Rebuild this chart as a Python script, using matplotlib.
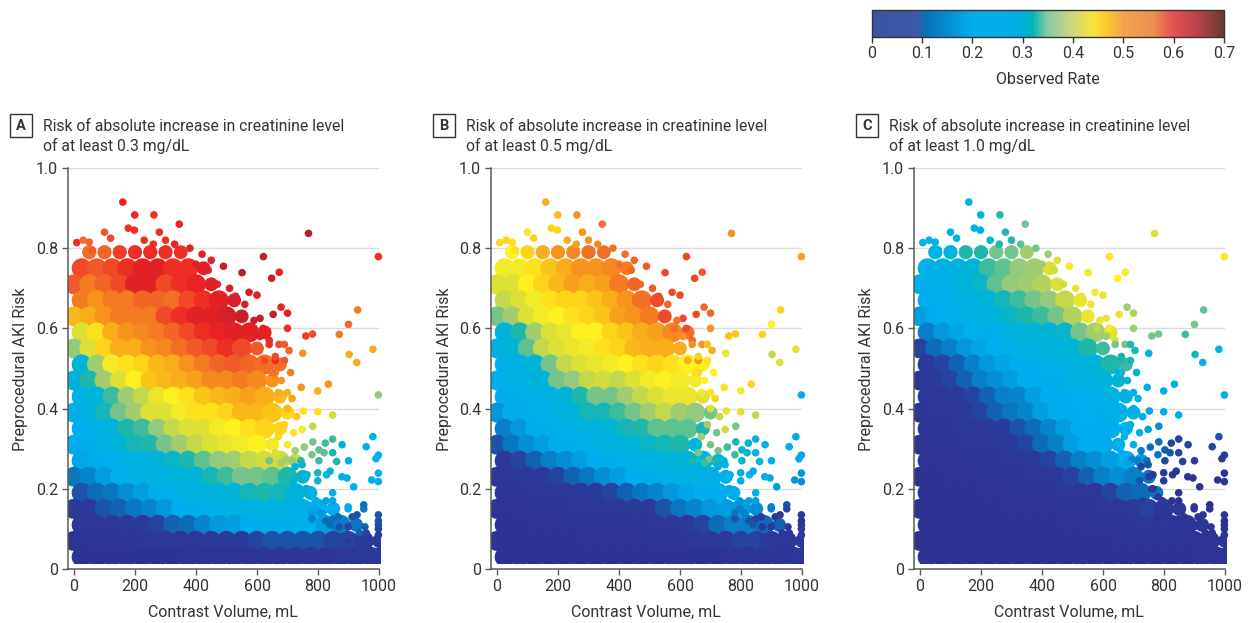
"""Preprocedural AKI risk against contrast volume, three creatinine thresholds."""
import matplotlib
matplotlib.use("Agg")
import matplotlib.pyplot as plt
from matplotlib.cm import ScalarMappable
from matplotlib.colors import LinearSegmentedColormap, Normalize
from matplotlib.patches import Rectangle

plt.rcParams["font.family"] = ["Roboto", "DejaVu Sans"]

W, H = 1249, 623
TEXT = "#333333"

TITLES = [
    ("A", "Risk of absolute increase in creatinine level\nof at least 0.3 mg/dL"),
    ("B", "Risk of absolute increase in creatinine level\nof at least 0.5 mg/dL"),
    ("C", "Risk of absolute increase in creatinine level\nof at least 1.0 mg/dL"),
]

# dense cloud, read as a coarse table: risk rows top down, volume columns in 50 mL steps
ROW_Y = [0.79, 0.75, 0.71, 0.67, 0.63, 0.59, 0.55, 0.51, 0.47, 0.43,
         0.39, 0.35, 0.31, 0.27, 0.23, 0.19, 0.15, 0.11, 0.07, 0.03]

# observed rate in percent per cell, 0 = no cell
RATE_A = [
    [0, 55, 56, 59, 60, 60, 60, 60],
    [58, 57, 58, 60, 62, 62, 60, 60, 62],
    [57, 54, 56, 58, 62, 62, 58, 60, 61, 62],
    [54, 52, 54, 54, 56, 56, 55, 58, 60, 62, 63],
    [49, 50, 52, 54, 54, 54, 58, 60, 62, 62, 63, 64],
    [42, 46, 50, 52, 53, 54, 56, 58, 60, 61, 62, 62, 61],
    [37, 42, 47, 50, 50, 52, 53, 55, 57, 58, 60, 58, 57],
    [30, 38, 44, 46, 47, 49, 50, 52, 54, 56, 57, 56, 55, 55],
    [27, 33, 38, 42, 45, 48, 49, 50, 51, 53, 53, 54, 53, 52],
    [25, 30, 34, 38, 40, 43, 45, 46, 48, 49, 50, 51, 50, 49],
    [23, 27, 32, 36, 38, 42, 42, 44, 46, 46, 47, 49, 49, 48, 47],
    [21, 24, 28, 33, 34, 37, 40, 42, 42, 44, 45, 46, 47, 47],
    [20, 22, 25, 29, 32, 33, 36, 38, 40, 42, 43, 44, 45, 44],
    [19, 20, 21, 24, 26, 29, 31, 33, 35, 37, 38, 40, 41, 41, 40],
    [13, 15, 18, 21, 24, 26, 27, 28, 30, 32, 34, 36, 36, 35, 33, 31],
    [10, 12, 13, 16, 18, 22, 24, 26, 27, 28, 30, 32, 33, 32, 30, 30],
    [7, 8, 10, 11, 13, 15, 17, 20, 22, 23, 25, 26, 26, 26, 25, 24, 22, 20],
    [5, 6, 6, 7, 8, 9, 11, 12, 15, 17, 18, 20, 22, 22, 22, 21, 18, 14, 13],
    [3, 3, 4, 4, 4, 5, 5, 6, 6, 7, 7, 8, 9, 10, 10, 10, 10, 9, 9, 8, 8],
    [2, 2, 2, 2, 2, 2, 2, 3, 3, 3, 3, 3, 4, 4, 4, 4, 4, 5, 6, 6, 7],
]
RATE_B = [
    [0, 45, 47, 50, 52, 53, 55, 55],
    [44, 44, 46, 48, 50, 52, 52, 53, 54],
    [42, 42, 45, 47, 49, 51, 50, 51, 54, 56],
    [40, 42, 44, 46, 47, 47, 48, 50, 52, 55, 58],
    [36, 38, 42, 44, 45, 46, 47, 48, 51, 52, 54, 58],
    [28, 33, 38, 42, 43, 45, 45, 47, 48, 50, 51, 53, 55],
    [26, 30, 35, 40, 42, 43, 44, 46, 47, 49, 50, 50, 50],
    [24, 27, 30, 36, 40, 42, 43, 44, 45, 46, 47, 46, 45, 45],
    [21, 24, 26, 30, 36, 37, 40, 41, 40, 42, 44, 45, 44, 44],
    [20, 22, 24, 26, 30, 33, 36, 36, 38, 40, 42, 43, 43, 42],
    [17, 20, 22, 24, 27, 29, 32, 32, 34, 36, 38, 40, 38, 37, 36],
    [14, 17, 20, 22, 24, 26, 28, 30, 32, 33, 35, 35, 35, 33],
    [10, 13, 16, 18, 20, 22, 24, 26, 28, 30, 31, 32, 33, 30],
    [7, 9, 11, 14, 16, 18, 20, 22, 24, 25, 27, 29, 30, 30, 29],
    [5, 6, 7, 8, 9, 11, 13, 16, 18, 20, 22, 24, 25, 25, 24, 22],
    [4, 4, 5, 5, 6, 7, 8, 9, 11, 13, 15, 17, 19, 20, 20, 20],
    [3, 3, 3, 4, 4, 5, 5, 5, 6, 7, 8, 10, 13, 15, 17, 18, 18, 16],
    [2, 2, 3, 3, 3, 3, 3, 4, 4, 4, 5, 6, 7, 9, 12, 14, 14, 12, 11],
    [2, 2, 2, 2, 2, 2, 3, 3, 3, 3, 3, 4, 4, 5, 6, 7, 9, 9, 8, 6, 5],
    [1, 1, 1, 1, 1, 1, 1, 1, 1, 2, 2, 2, 2, 2, 2, 3, 3, 4, 4, 5, 5],
]
RATE_C = [
    [0, 26, 28, 33, 33, 36, 36, 38],
    [24, 25, 26, 30, 34, 35, 37, 38, 42],
    [22, 23, 24, 28, 31, 35, 37, 38, 39, 42],
    [20, 21, 24, 26, 29, 32, 34, 36, 37, 40, 43],
    [18, 20, 21, 24, 26, 28, 31, 33, 34, 36, 39, 43],
    [14, 17, 19, 21, 22, 25, 28, 30, 30, 31, 36, 38, 42],
    [9, 12, 14, 17, 19, 21, 23, 25, 27, 28, 30, 33, 34],
    [7, 9, 11, 14, 17, 19, 20, 22, 24, 25, 28, 30, 33, 34],
    [6, 7, 9, 11, 14, 16, 18, 20, 20, 22, 25, 26, 28, 30],
    [5, 6, 7, 9, 11, 14, 15, 18, 20, 20, 21, 23, 25, 27],
    [4, 5, 6, 7, 9, 11, 13, 15, 18, 20, 20, 21, 22, 24, 25],
    [4, 4, 5, 6, 7, 8, 10, 12, 15, 18, 20, 20, 20, 21],
    [3, 4, 4, 5, 5, 6, 8, 9, 12, 14, 18, 20, 20, 20],
    [3, 3, 3, 4, 4, 5, 5, 7, 9, 11, 14, 16, 18, 20, 18],
    [2, 2, 3, 3, 3, 4, 4, 5, 6, 7, 9, 11, 14, 16, 14, 13],
    [2, 2, 2, 2, 3, 3, 3, 4, 4, 5, 5, 6, 9, 11, 12, 13],
    [2, 2, 2, 2, 2, 2, 3, 3, 3, 3, 4, 4, 5, 6, 7, 9, 8, 6],
    [1, 1, 2, 2, 2, 2, 2, 2, 2, 3, 3, 3, 4, 4, 5, 5, 5, 4, 4],
    [1, 1, 1, 1, 1, 1, 2, 2, 2, 2, 2, 2, 2, 3, 3, 3, 3, 3, 3, 3, 3],
    [1, 1, 1, 1, 1, 1, 1, 1, 1, 1, 1, 1, 1, 2, 2, 2, 2, 2, 3, 3, 3],
]

# single patients outside the cloud
SPARSE_X = [160, 199, 262, 345, 178, 198, 100, 9, 30, 280,
            300, 380, 420, 450, 490, 551, 621, 648, 673, 769,
            998, 600, 574, 679, 700, 653, 610, 700, 760, 782,
            870, 900, 930, 980, 902, 750, 705, 672, 927, 834,
            799, 745, 700, 715, 998, 799, 848, 752, 748, 783,
            980, 958, 998, 990, 900, 879, 848, 824, 783, 755,
            725, 803, 820, 848, 780, 695, 715, 744, 803, 861,
            998, 998, 976, 917, 895, 878, 840, 828, 848, 848,
            826, 799, 799, 764, 750, 764, 725, 748, 950, 950,
            899, 899, 928, 912, 998, 998, 998, 998, 998, 954,
            935, 958, 899, 870, 866, 848, 826, 795, 795, 780,
            780, 620, 640, 660, 690, 660,
            560, 590, 580, 610, 640, 625, 660, 690, 650, 680,
            710, 670, 700, 730, 690, 720, 670, 700, 660, 680,
            640, 720, 760, 780, 730, 810, 840, 870, 900, 930,
            960, 50, 120, 230, 260, 330, 60, 400, 440, 470,
            510, 530]
SPARSE_Y = [.915, .883, .883, .86, .85, .845, .84, .814, .82, .84,
            .82, .80, .785, .77, .755, .739, .779, .725, .74, .837,
            .779, .683, .69, .653, .638, .635, .625, .60, .581, .586,
            .585, .61, .646, .548, .535, .538, .545, .56, .515, .461,
            .444, .453, .44, .425, .434, .392, .384, .394, .348, .356,
            .33, .305, .284, .275, .27, .31, .324, .314, .317, .304,
            .295, .297, .29, .29, .285, .274, .27, .27, .27, .268,
            .239, .218, .222, .205, .227, .23, .244, .235, .19, .17,
            .17, .22, .24, .235, .23, .20, .255, .26, .16, .15,
            .155, .15, .135, .13, .135, .12, .11, .10, .085, .105,
            .09, .09, .105, .105, .13, .125, .12, .15, .17, .14,
            .125, .60, .57, .52, .56, .49,
            .66, .62, .60, .58, .56, .52, .53, .52, .49, .47,
            .49, .44, .40, .38, .36, .34, .33, .31, .29, .265,
            .27, .22, .20, .18, .17, .14, .11, .08, .07, .05,
            .06, .815, .825, .82, .81, .81, .795, .76, .745, .71,
            .70, .68]
SPARSE_A = [61, 61, 60, 61, 60, 60, 57, 60, 55, 60,
            60, 62, 62, 62, 64, 65, 65, 64, 62, 65,
            60, 62, 63, 61, 62, 64, 64, 60, 59, 58,
            54, 56, 54, 50, 50, 52, 56, 58, 50, 52,
            50, 52, 50, 51, 37, 46, 41, 46, 44, 40,
            24, 24, 22, 21, 22, 30, 34, 34, 36, 37,
            38, 35, 35, 32, 36, 38, 37, 33, 34, 33,
            20, 20, 20, 20, 22, 22, 31, 30, 21, 19,
            19, 31, 32, 28, 27, 22, 28, 31, 13, 13,
            20, 20, 10, 10, 10, 10, 10, 9, 8, 11,
            11, 9, 9, 10, 12, 12, 12, 19, 20, 18,
            14, 62, 61, 60, 57, 54,
            63, 64, 62, 62, 60, 58, 58, 57, 55, 52,
            54, 50, 49, 48, 47, 46, 47, 44, 42, 38,
            36, 30, 26, 24, 25, 17, 12, 9, 8, 8,
            7, 56, 58, 60, 60, 61, 57, 62, 62, 62,
            63, 63]
SPARSE_B = [50, 49, 52, 55, 47, 47, 44, 47, 47, 52,
            52, 55, 55, 56, 57, 58, 58, 58, 57, 52,
            51, 58, 58, 56, 56, 58, 58, 52, 48, 48,
            47, 45, 47, 42, 40, 43, 50, 52, 42, 47,
            44, 46, 46, 47, 20, 42, 40, 43, 41, 36,
            19, 20, 19, 19, 20, 24, 29, 29, 32, 34,
            36, 30, 30, 28, 34, 36, 33, 30, 29, 28,
            17, 16, 17, 18, 19, 20, 22, 20, 20, 18,
            18, 22, 22, 24, 24, 20, 24, 26, 10, 9,
            15, 14, 6, 6, 7, 6, 6, 5, 5, 6,
            6, 5, 6, 6, 8, 9, 10, 14, 16, 13,
            10, 58, 56, 52, 48, 47,
            56, 55, 55, 52, 52, 50, 47, 46, 46, 45,
            45, 44, 42, 40, 38, 36, 38, 36, 36, 34,
            33, 24, 22, 20, 20, 14, 10, 7, 6, 5,
            5, 46, 47, 50, 51, 53, 46, 55, 56, 56,
            57, 58]
SPARSE_C = [22, 28, 33, 36, 24, 25, 24, 24, 24, 33,
            33, 36, 38, 42, 44, 44, 46, 45, 44, 42,
            44, 43, 44, 38, 39, 43, 43, 38, 36, 36,
            34, 36, 35, 24, 32, 29, 32, 36, 30, 25,
            22, 24, 21, 22, 20, 20, 22, 19, 18, 16,
            10, 9, 7, 7, 7, 9, 9, 9, 12, 12,
            14, 11, 10, 9, 13, 15, 14, 12, 9, 9,
            4, 4, 3, 4, 4, 4, 6, 5, 3, 3,
            3, 7, 7, 8, 8, 5, 9, 10, 2, 2,
            3, 3, 2, 2, 3, 2, 2, 2, 2, 2,
            2, 2, 2, 2, 3, 3, 3, 4, 5, 4,
            3, 44, 42, 33, 33, 31,
            43, 43, 40, 38, 36, 33, 32, 32, 30, 28,
            28, 26, 24, 22, 24, 22, 24, 22, 20, 18,
            18, 10, 8, 6, 8, 5, 4, 3, 3, 3,
            3, 26, 26, 30, 33, 35, 25, 38, 41, 41,
            43, 43]

DOT_COLORS = [(0.0, "#2e3192"), (0.08, "#2b3a9a"), (0.12, "#0a6fba"), (0.2, "#00aeef"),
              (0.3, "#00b4d8"), (0.33, "#1fb7a8"), (0.37, "#93c97f"), (0.41, "#d3dc3c"),
              (0.45, "#fff01f"), (0.48, "#fbc518"), (0.52, "#f7941d"), (0.57, "#f1592a"),
              (0.61, "#ed2224"), (0.65, "#be1e2d"), (0.7, "#8b1a1a")]
BAR_COLORS = [(0.0, "#3b53a4"), (0.095, "#3b5aa6"), (0.105, "#0b6fb5"), (0.2, "#00aeef"),
              (0.29, "#00aee6"), (0.32, "#00b5b8"), (0.35, "#8cc9a8"), (0.4, "#cfd77f"),
              (0.44, "#f9e23a"), (0.47, "#fcc72d"), (0.5, "#f3a44c"), (0.56, "#ee8f50"),
              (0.6, "#e5504f"), (0.65, "#b8434a"), (0.7, "#6b3a30")]


def make_cmap(name, stops):
    return LinearSegmentedColormap.from_list(name, [(v / 0.7, c) for v, c in stops], N=256)


def px_axes(fig, left, top, right, bottom):
    return fig.add_axes([left / W, 1 - bottom / H, (right - left) / W, (bottom - top) / H])


def draw_panel(fig, left, letter, title, rows, sparse, cmap):
    ax = px_axes(fig, left, 168, left + 311, 569)
    ax.set_xlim(-19.7, 1000)
    ax.set_ylim(0, 1)
    ax.set_axisbelow(True)
    ax.grid(axis="y", color="#dcdcdc", lw=1)
    for name in ("top", "right"):
        ax.spines[name].set_visible(False)
    for name in ("left", "bottom"):
        ax.spines[name].set_color("#5a5a5a")
        ax.spines[name].set_linewidth(1.1)

    norm = Normalize(0, 0.7)
    # cloud stops just above the axis and at the 1000 mL edge
    clip = Rectangle((-19.7, 0.012), 1027, 0.988, transform=ax.transData)
    for i, (y, row) in enumerate(zip(ROW_Y, rows)):
        # every other row sits half a column over so the discs close up
        shift = 25 if i % 2 else 0
        xs = [min(j * 50 + shift, 1005) for j, v in enumerate(row) if v]
        vals = [v / 100 for v in row if v]
        sizes = [105 if i == 0 else 207 for _ in xs]
        if y > 0.05:
            sizes[-1] = 100  # row ends are thinner in the picture
        dots = ax.scatter(xs, [y] * len(xs), c=vals, s=sizes, cmap=cmap, norm=norm,
                          linewidths=0, zorder=2)
        dots.set_clip_path(clip)
    ax.scatter(SPARSE_X, SPARSE_Y, c=[v / 100 for v in sparse], s=30, cmap=cmap, norm=norm,
               linewidths=0, zorder=3, clip_on=False)

    ax.set_xticks([0, 200, 400, 600, 800, 1000])
    ax.set_yticks([0, 0.2, 0.4, 0.6, 0.8, 1.0], ["0", "0.2", "0.4", "0.6", "0.8", "1.0"])
    ax.tick_params(colors=TEXT, labelsize=11.5, length=4, width=1, color="#5a5a5a", pad=3)
    fig.text((left + 155) / W, 1 - 612 / H, "Contrast Volume, mL", ha="center", va="center",
             fontsize=11.5, color=TEXT)
    fig.text((left - 47) / W, 1 - 369 / H, "Preprocedural AKI Risk", rotation=90, ha="center",
             va="center", fontsize=11.5, color=TEXT)

    box_left = left - 58
    fig.add_artist(Rectangle((box_left / W, 1 - 137 / H), 22 / W, 23 / H, transform=fig.transFigure,
                             fill=False, ec="#333333", lw=1))
    fig.text((box_left + 11) / W, 1 - 125.5 / H, letter, ha="center", va="center", fontsize=10.5,
             fontweight="bold", color=TEXT)
    fig.text((left - 25) / W, 1 - 136.5 / H, title, ha="left", va="center", fontsize=11.35,
             color=TEXT, linespacing=1.3)


def draw_colorbar(fig, cmap):
    cax = px_axes(fig, 871.5, 10, 1224, 36.5)
    bar = fig.colorbar(ScalarMappable(Normalize(0, 0.7), cmap), cax=cax, orientation="horizontal")
    bar.set_ticks([0, 0.1, 0.2, 0.3, 0.4, 0.5, 0.6, 0.7], labels=["0", "0.1", "0.2", "0.3", "0.4", "0.5", "0.6", "0.7"])
    bar.ax.tick_params(labelsize=11.5, colors=TEXT, length=4, width=1, color="#333333", pad=3)
    bar.outline.set_edgecolor("#333333")
    bar.outline.set_linewidth(1)
    fig.text(1047.5 / W, 1 - 79 / H, "Observed Rate", ha="center", va="center", fontsize=11.5, color=TEXT)


def main():
    fig = plt.figure(figsize=(W / 100, H / 100), dpi=100)
    dot_cmap = make_cmap("dots", DOT_COLORS)
    lefts = [68, 491, 914]
    tables = [RATE_A, RATE_B, RATE_C]
    sparse = [SPARSE_A, SPARSE_B, SPARSE_C]
    for left, (letter, title), rows, singles in zip(lefts, TITLES, tables, sparse):
        draw_panel(fig, left, letter, title, rows, singles, dot_cmap)
    draw_colorbar(fig, make_cmap("bar", BAR_COLORS))
    fig.savefig("out.png", dpi=100)
    plt.close(fig)


main()
